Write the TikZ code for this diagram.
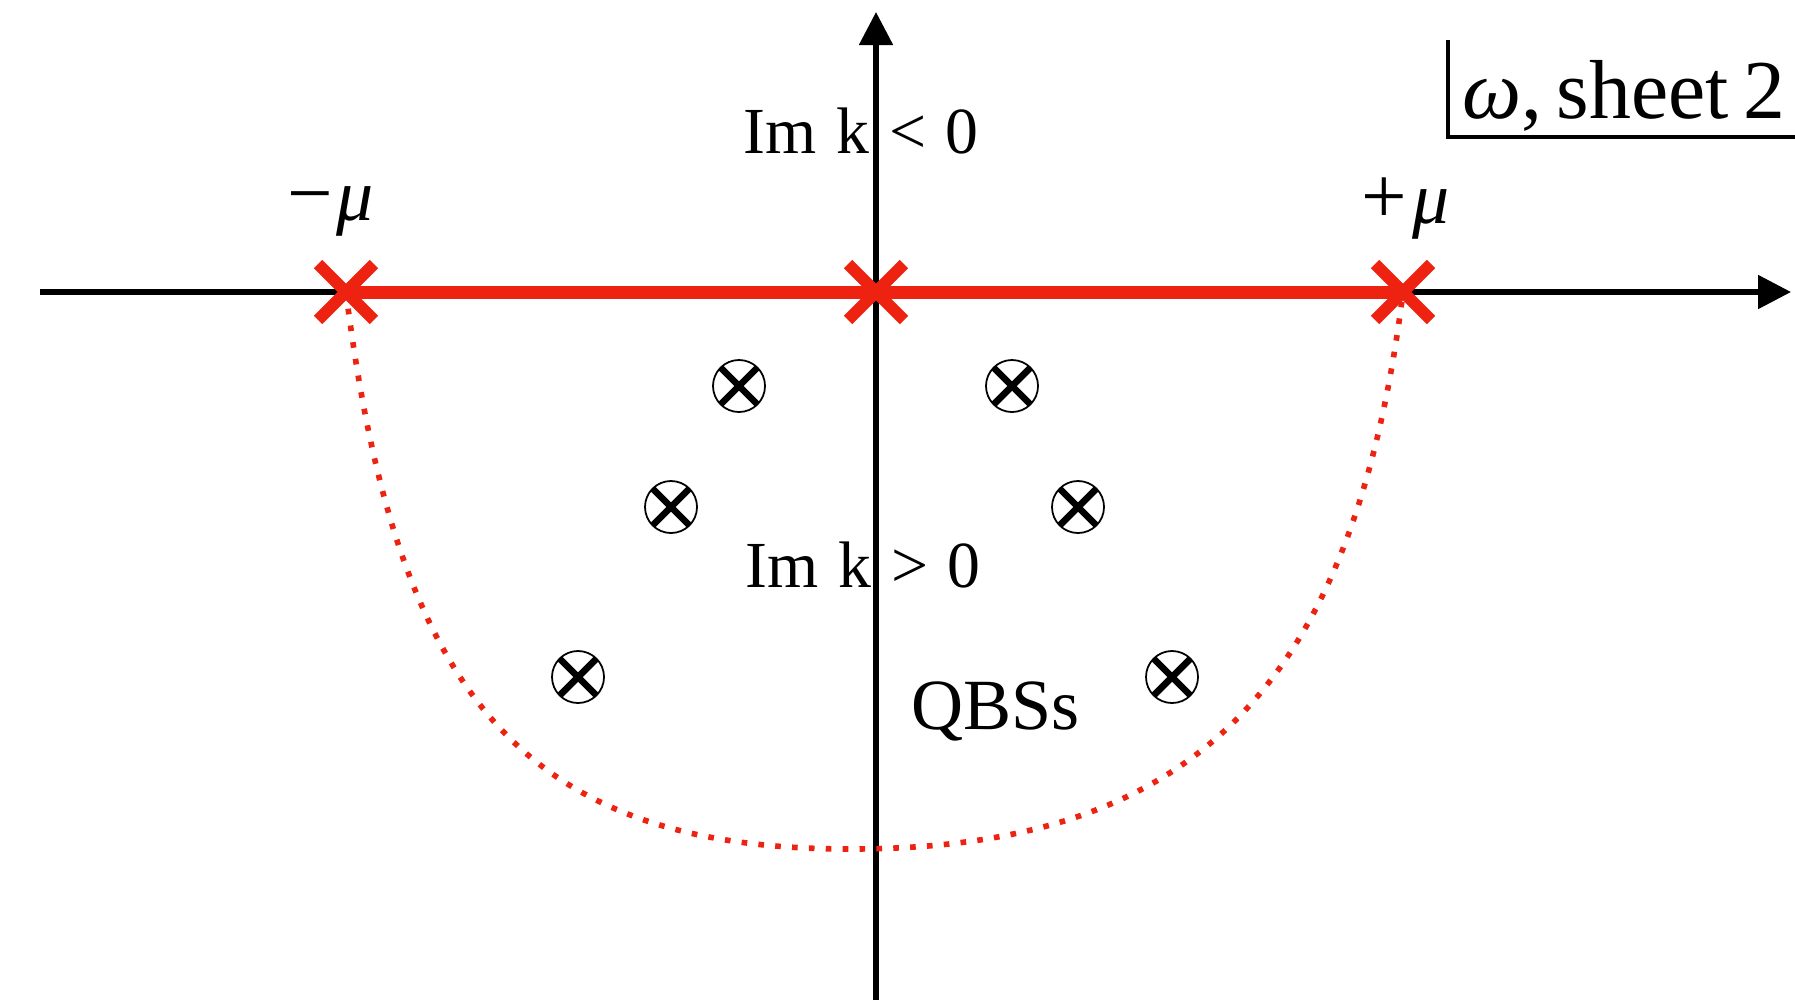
\documentclass[tikz,border=0pt]{standalone}
\usepackage{fontspec}
\setmainfont{Liberation Serif}
\usetikzlibrary{arrows.meta,shapes.misc}
\definecolor{cutred}{RGB}{237,34,16}
\begin{document}
\begin{tikzpicture}[x=0.01cm,y=-0.01cm,
  axis/.style={line width=1.45pt,-{Triangle[length=0.33cm,width=0.33cm]}},
  branchpt/.style={cross out,draw=cutred,line width=3.4pt,minimum size=0.44cm,inner sep=0pt},
  qbs/.style={circle,draw,line width=0.5pt,minimum size=0.52cm,inner sep=0pt,
    path picture={\draw[line width=1.9pt]
      (path picture bounding box.south west) -- (path picture bounding box.north east)
      (path picture bounding box.north west) -- (path picture bounding box.south east);}},
  lbl/.style={anchor=base west,inner sep=0pt,font=\fontsize{18.7}{22}\selectfont},
  mulbl/.style={anchor=base west,inner sep=0pt,font=\fontsize{21}{25}\selectfont},
  cut/.style={draw=cutred,line width=3.7pt},
  contour/.style={draw=cutred,line width=1.6pt,dash pattern=on 1.6pt off 3.2pt},
]
\useasboundingbox (0,0) rectangle (1795,1000);
% axes
\coordinate (xl) at (40,292);
\coordinate (xr) at (1791,292);
\coordinate (yb) at (876,1000);
\coordinate (yt) at (876,12);
\draw[axis] (xl) -- (xr);
\draw[axis] (yb) -- (yt);
% branch points
\node[branchpt] (bm) at (346,292) {};
\node[branchpt] (b0) at (876,292) {};
\node[branchpt] (bp) at (1403,292) {};
\draw[cut] (bm.center) -- (bp.center);
% dotted contour
\draw[contour] (bm.center) .. controls (396,692) and (520,849) .. (850,849)
  .. controls (1190,849) and (1353,692) .. (bp.center);
% QBS poles
\node[qbs] (q1) at (739,386) {};
\node[qbs] (q2) at (1012,386) {};
\node[qbs] (q3) at (671,507) {};
\node[qbs] (q4) at (1078,507) {};
\node[qbs] (q5) at (578,677) {};
\node[qbs] (q6) at (1172,677) {};
% labels
\node[lbl] (imneg) at (743,153) {\spaceskip=0.3em Im k < 0};
\node[lbl] (impos) at (745,587) {\spaceskip=0.3em Im k > 0};
\node[lbl,font=\fontsize{20.5}{24}\selectfont] (qbss) at (911,729) {QBSs};
\node[mulbl] (mum) at (287,220) {{\fontsize{23}{25}\selectfont −}\kern1pt\textit{μ}};
\node[mulbl] (mup) at (1361,223) {{\fontsize{23}{25}\selectfont +}\kern1.5pt\textit{μ}};
% sheet label
\coordinate (ht) at (1448,40);
\coordinate (hc) at (1448,137);
\coordinate (hr) at (1795,137);
\draw[line width=1pt] (ht) -- (hc) -- (hr);
\node[anchor=base west,inner sep=0pt,font=\fontsize{23.8}{29}\selectfont] (sheet) at (1462,118) {\spaceskip=0.17em\textit{ω}, sheet 2};
\end{tikzpicture}
\end{document}
